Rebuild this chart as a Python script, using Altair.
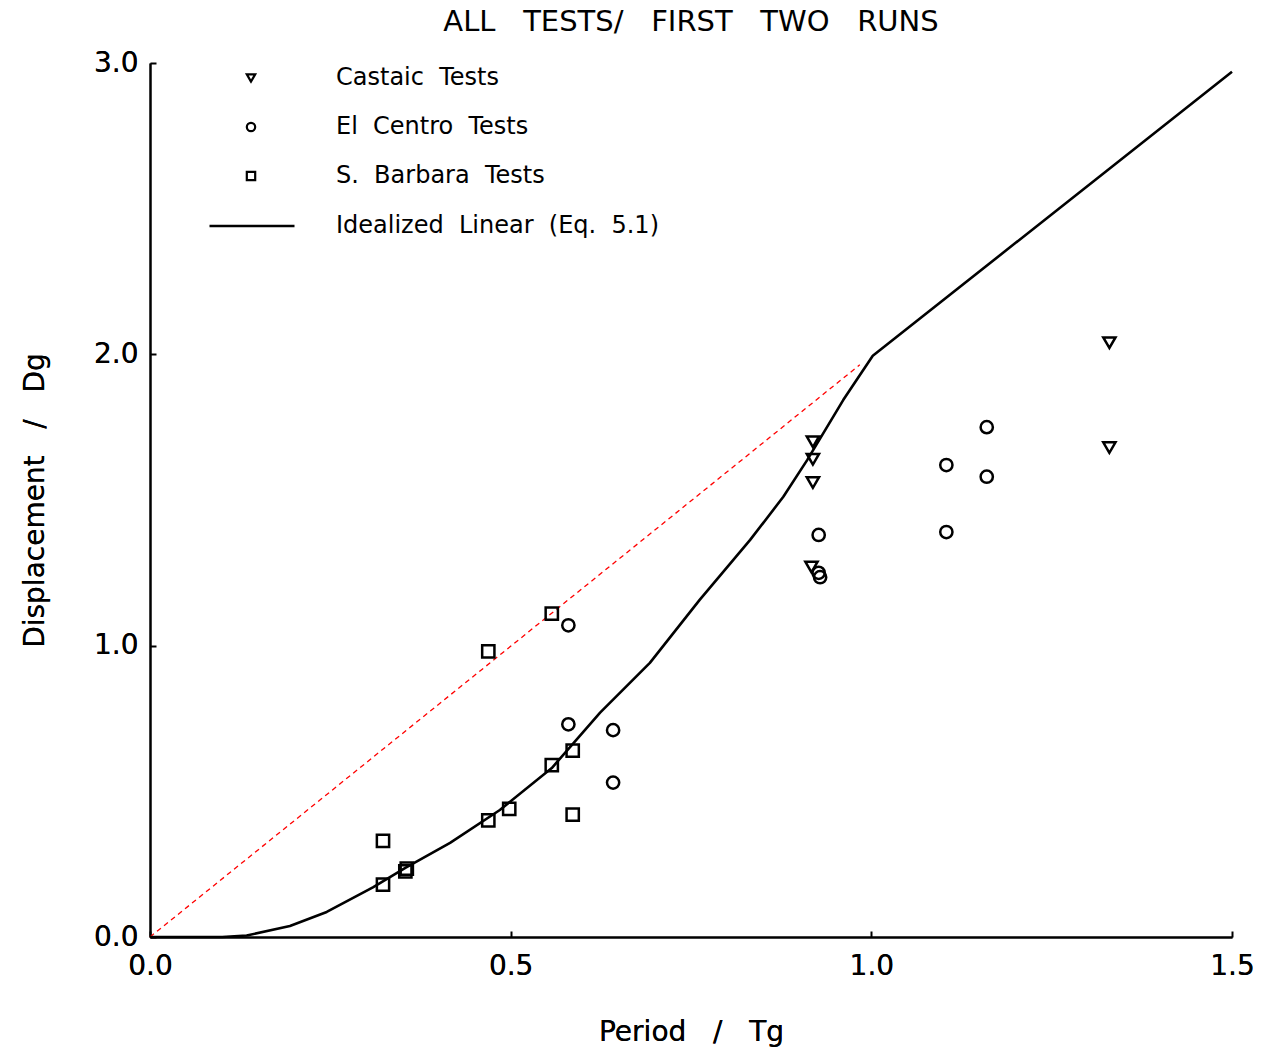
import altair as alt
import pandas as pd

# ---- data ----
castaic_x = [0.919, 0.919, 0.919, 0.917, 1.330, 1.330]
castaic_y = [1.70, 1.64, 1.56, 1.27, 2.04, 1.68]

elcentro_x = [0.580, 0.580, 0.642, 0.642, 0.927, 0.927, 0.929, 1.104, 1.104, 1.160, 1.160]
elcentro_y = [1.07, 0.73, 0.71, 0.53, 1.38, 1.25, 1.235, 1.62, 1.39, 1.75, 1.58]

sbarbara_x = [0.323, 0.323, 0.354, 0.356, 0.469, 0.469, 0.498, 0.557, 0.557, 0.586, 0.586]
sbarbara_y = [0.33, 0.18, 0.225, 0.235, 0.98, 0.40, 0.44, 1.11, 0.59, 0.64, 0.42]

linear_x = [0.0, 0.10, 0.134, 0.194, 0.245, 0.309, 0.354, 0.416, 0.485, 0.557, 0.624,
            0.693, 0.762, 0.832, 0.878, 0.911, 0.961, 1.002, 1.5]
linear_y = [0.0, 0.0, 0.005, 0.038, 0.086, 0.17, 0.237, 0.323, 0.436, 0.58, 0.77,
            0.941, 1.157, 1.363, 1.511, 1.637, 1.843, 1.995, 2.97]

ref_x = [0.0, 0.984]
ref_y = [0.0, 1.964]

SP = "\u00a0\u00a0"
series_names = ["Castaic" + SP + "Tests", "El" + SP + "Centro" + SP + "Tests",
                "S." + SP + "Barbara" + SP + "Tests"]
line_name = "Idealized" + SP + "Linear" + SP + "(Eq." + SP + "5.1)"

x_ticks = [0.0, 0.5, 1.0, 1.5]
y_ticks = [0.0, 1.0, 2.0, 3.0]

# ---- tables ----
pts = pd.concat([
    pd.DataFrame({"x": castaic_x, "y": castaic_y, "s": series_names[0]}),
    pd.DataFrame({"x": elcentro_x, "y": elcentro_y, "s": series_names[1]}),
    pd.DataFrame({"x": sbarbara_x, "y": sbarbara_y, "s": series_names[2]}),
], ignore_index=True)
lin = pd.DataFrame({"x": linear_x, "y": linear_y, "s": line_name})
ref = pd.DataFrame({"x": ref_x, "y": ref_y})

FONT = "DejaVu Sans"
SP3 = "\u00a0\u00a0\u00a0"
xs = alt.Scale(domain=[0, 1.5], nice=False, zero=False)
ys = alt.Scale(domain=[0, 3], nice=False, zero=False)

x_axis = alt.Axis(orient="bottom", values=x_ticks, format=".1f", grid=False, ticks=False,
                  domainColor="black", domainWidth=2, labelFontSize=28, labelFont=FONT,
                  labelColor="black", labelPadding=15, labelFlush=False, labelOverlap=False,
                  title="Period" + SP3 + "/" + SP3 + "Tg",
                  titleFont=FONT, titleFontSize=28, titleFontWeight="normal",
                  titleColor="black", titlePadding=38)
y_axis = alt.Axis(orient="left", values=y_ticks, format=".1f", grid=False, ticks=False,
                  domainColor="black", domainWidth=2, labelFontSize=28, labelFont=FONT,
                  labelColor="black", labelPadding=12, labelFlush=False, labelOverlap=False,
                  title="Displacement" + SP3 + "/" + SP3 + "Dg",
                  titleFont=FONT, titleFontSize=28, titleFontWeight="normal",
                  titleColor="black", titlePadding=44)

x_tick_axis = alt.Axis(orient="bottom", values=x_ticks, grid=False, domain=False, labels=False,
                       title=None, tickSize=6, tickWidth=2, tickColor="black", offset=-6)
y_tick_axis = alt.Axis(orient="left", values=y_ticks, grid=False, domain=False, labels=False,
                       title=None, tickSize=6, tickWidth=2, tickColor="black", offset=-6)

ref_layer = alt.Chart(ref).mark_line(color="red", strokeWidth=1.3, strokeDash=[5, 4]).encode(
    x=alt.X("x:Q", scale=xs, axis=x_tick_axis),
    y=alt.Y("y:Q", scale=ys, axis=y_tick_axis),
)

line_layer = alt.Chart(lin).mark_line(strokeWidth=2.6, strokeJoin="round").encode(
    x=alt.X("x:Q", scale=xs, axis=x_axis),
    y=alt.Y("y:Q", scale=ys, axis=y_axis),
    color=alt.Color("s:N", scale=alt.Scale(domain=[line_name], range=["black"]),
                    legend=alt.Legend(title=None, orient="none", legendX=58, legendY=119,
                                      symbolType="stroke", symbolSize=7225, symbolStrokeWidth=2.6,
                                      symbolOpacity=1,
                                      labelFont=FONT, labelFontSize=24, labelColor="black",
                                      labelOffset=40, labelLimit=0, padding=0)),
)

pt_layer = alt.Chart(pts).mark_point(filled=False, color="black", opacity=1, strokeWidth=2.5,
                                     size=150).encode(
    x=alt.X("x:Q", scale=xs, axis=x_axis),
    y=alt.Y("y:Q", scale=ys, axis=y_axis),
    shape=alt.Shape("s:N", scale=alt.Scale(domain=series_names,
                                           range=["triangle-down", "circle", "square"]),
                    legend=alt.Legend(title=None, orient="none", legendX=89, legendY=3,
                                      symbolSize=70, symbolStrokeWidth=2.2, symbolStrokeColor="black",
                                      symbolFillColor="white", symbolOpacity=1, rowPadding=25,
                                      labelFont=FONT, labelFontSize=24, labelColor="black",
                                      labelOffset=73, labelLimit=0, padding=0)),
)

chart = alt.layer(ref_layer, line_layer, pt_layer).resolve_axis(
    x="independent", y="independent"
).resolve_legend(color="independent", shape="independent").properties(
    width=1082, height=874,
    background="white",
    title=alt.TitleParams("ALL" + SP3 + "TESTS/" + SP3 + "FIRST" + SP3 + "TWO" + SP3 + "RUNS",
                          font=FONT, fontSize=29, fontWeight="normal", color="black",
                          anchor="middle", offset=12),
    autosize=alt.AutoSizeParams(type="none"),
    padding={"left": 150, "top": 63, "right": 31, "bottom": 120},
).configure_view(stroke=None)

chart.save("out.html", embed_options={"renderer": "svg", "actions": False})
